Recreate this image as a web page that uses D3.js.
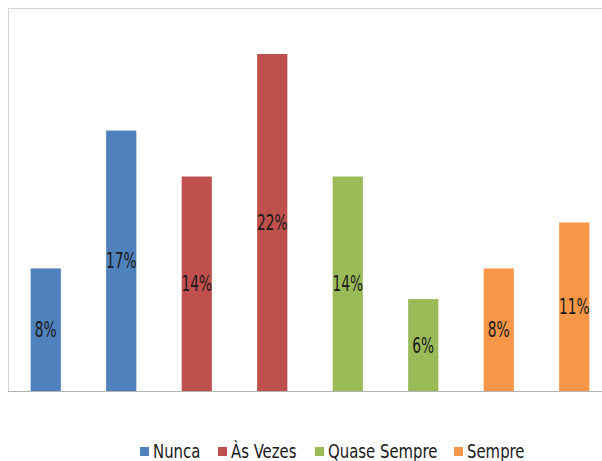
<!DOCTYPE html>
<html>
<head>
<meta charset="utf-8">
<script src="https://cdn.jsdelivr.net/npm/d3@7"></script>
<style>
  html, body { margin: 0; padding: 0; background: #fff; }
  svg text { font-family: "Liberation Sans Narrow", "DejaVu Sans Condensed", "Arial Narrow", sans-serif; }
</style>
</head>
<body>
<svg id="chart" width="602" height="461"></svg>
<script>
// Response categories and their colours
const series = ["Nunca", "Às Vezes", "Quase Sempre", "Sempre"];
const seriesColors = ["#4F81BD", "#C0504D", "#9BBB59", "#F79646"];

// Two percentages per category, drawn side by side
const nuncaValues = [8, 17];
const asVezesValues = [14, 22];
const quaseSempreValues = [14, 6];
const sempreValues = [8, 11];

const yMax = 25;

const seriesValues = [nuncaValues, asVezesValues, quaseSempreValues, sempreValues];
const bars = [];
seriesValues.forEach((vals, si) => {
  vals.forEach((v, j) => bars.push({ key: series[si] + "-" + j, series: series[si], si, value: v }));
});

const svg = d3.select("#chart");

const plot = { left: 8, top: 8, right: 612, bottom: 391 };

const x = d3.scaleBand()
  .domain(bars.map(d => d.key))
  .range([plot.left, plot.right])
  .paddingInner(0.6)
  .paddingOuter(0.3);

const y = d3.scaleLinear()
  .domain([0, yMax])
  .range([plot.bottom, plot.top]);

const color = d3.scaleOrdinal().domain(series).range(seriesColors);

// Plot area frame (left and top edges)
svg.append("path")
  .attr("d", `M${plot.left + 0.5},${plot.bottom}V${plot.top + 0.5}H602`)
  .attr("fill", "none")
  .attr("stroke", "#d4d4d4")
  .attr("stroke-width", 1);

// Bars
svg.append("g")
  .selectAll("rect")
  .data(bars)
  .join("rect")
  .attr("x", d => x(d.key))
  .attr("y", d => y(d.value))
  .attr("width", x.bandwidth())
  .attr("height", d => y(0) - y(d.value))
  .attr("fill", d => color(d.series));

// Category axis baseline
const xAxis = d3.axisBottom(x).tickSize(0).tickFormat("");
const axisG = svg.append("g")
  .attr("transform", `translate(0,${plot.bottom + 0.5})`)
  .call(xAxis);
axisG.select(".domain").attr("stroke", "#b3b3b3").attr("d", `M${plot.left},0H602`);

// Value labels centred inside each bar (tall, narrow lettering)
svg.append("g")
  .selectAll("text")
  .data(bars)
  .join("text")
  .attr("transform", d => `translate(${x(d.key) + x.bandwidth() / 2},${(y(d.value) + y(0)) / 2}) scale(0.9,1.24)`)
  .attr("dy", "0.36em")
  .attr("text-anchor", "middle")
  .attr("font-size", 17)
  .attr("fill", "#1a1a1a")
  .text(d => d.value + "%");

// Legend
const legendX = [140, 218, 315, 454];
const legend = svg.append("g")
  .selectAll("g")
  .data(series)
  .join("g")
  .attr("transform", (d, i) => `translate(${legendX[i]},452)`);

legend.append("rect")
  .attr("x", 0)
  .attr("y", -5)
  .attr("width", 9)
  .attr("height", 9)
  .attr("fill", d => color(d));

legend.append("text")
  .attr("transform", "translate(13,-1) scale(0.92,1.06)")
  .attr("dy", "0.36em")
  .attr("font-size", 18)
  .attr("fill", "#1a1a1a")
  .text(d => d);
</script>
</body>
</html>
